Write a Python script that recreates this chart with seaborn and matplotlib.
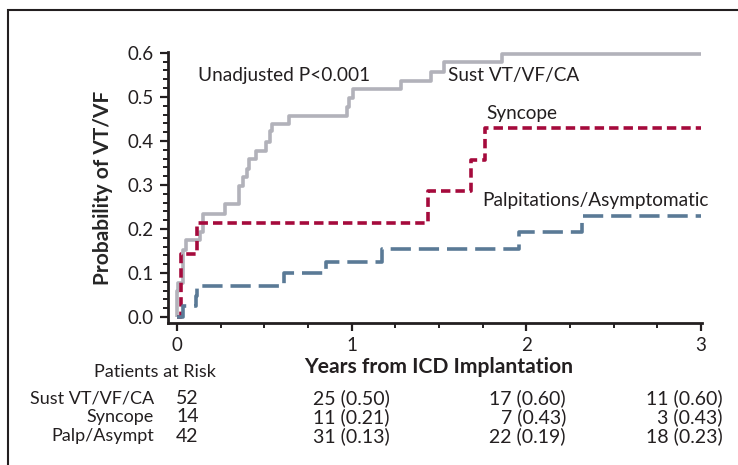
import numpy as np
import pandas as pd
import matplotlib
matplotlib.use("Agg")
import matplotlib.pyplot as plt
import seaborn as sns
from matplotlib.transforms import blended_transform_factory
from matplotlib.patches import Rectangle
from matplotlib.ticker import MultipleLocator

# ---- data ----
sust_t = [0.0, 0.0, 0.007, 0.033, 0.052, 0.132, 0.147, 0.275, 0.357, 0.38, 0.402, 0.41,
          0.452, 0.509, 0.532, 0.542, 0.643, 0.971, 0.986, 1.009, 1.28, 1.452, 1.528, 1.859, 3.0]
sust_p = [0.0, 0.06, 0.078, 0.152, 0.174, 0.193, 0.235, 0.256, 0.297, 0.318, 0.337, 0.358,
          0.378, 0.397, 0.422, 0.438, 0.457, 0.477, 0.498, 0.517, 0.537, 0.557, 0.58, 0.598, 0.598]

sync_t = [0.0, 0.021, 0.116, 1.438, 1.681, 1.763, 3.0]
sync_p = [0.0, 0.143, 0.214, 0.286, 0.357, 0.429, 0.429]

palp_t = [0.0, 0.033, 0.109, 0.113, 0.612, 0.851, 1.172, 1.959, 2.32, 3.0]
palp_p = [0.0, 0.024, 0.048, 0.071, 0.099, 0.125, 0.155, 0.192, 0.229, 0.229]

group_names = ["Sust VT/VF/CA", "Syncope", "Palpitations/Asymptomatic"]
risk_labels = ["Sust VT/VF/CA", "Syncope", "Palp/Asympt"]
risk_values = [
    ["52", "25 (0.50)", "17 (0.60)", "11 (0.60)"],
    ["14", "11 (0.21)", "7 (0.43)", "3 (0.43)"],
    ["42", "31 (0.13)", "22 (0.19)", "18 (0.23)"],
]
x_ticks = [0, 1, 2, 3]
y_ticks = [0.0, 0.1, 0.2, 0.3, 0.4, 0.5, 0.6]

# ---- styling ----
sns.set_theme(style="ticks")
plt.rcParams["font.family"] = ["Lato", "DejaVu Sans"]
plt.rcParams["text.color"] = "#231f20"

colors = {"Sust VT/VF/CA": "#b2b2ba", "Syncope": "#a50a3c", "Palpitations/Asymptomatic": "#5a7a96"}
dash_map = {"Sust VT/VF/CA": "", "Syncope": (2.6, 1.4), "Palpitations/Asymptomatic": (5.6, 2.2)}

df = pd.concat([
    pd.DataFrame({"t": sust_t, "p": sust_p, "g": group_names[0]}),
    pd.DataFrame({"t": sync_t, "p": sync_p, "g": group_names[1]}),
    pd.DataFrame({"t": palp_t, "p": palp_p, "g": group_names[2]}),
], ignore_index=True)

fig = plt.figure(figsize=(7.38, 4.65), dpi=100)
ax = fig.add_axes([168 / 738, 1 - 323 / 465, (702 - 168) / 738, (323 - 52) / 465])

for g in group_names:
    sub = df[df["g"] == g]
    sns.lineplot(data=sub, x="t", y="p", ax=ax, color=colors[g], lw=2.6,
                 drawstyle="steps-post", estimator=None, sort=False,
                 dashes=False, legend=False)
    line = ax.lines[-1]
    if dash_map[g]:
        line.set_dashes(dash_map[g])
    line.set_solid_capstyle("butt")
    line.set_dash_capstyle("butt")

ax.set_xlim(-0.0515, 3.006)
ax.set_ylim(-0.0136, 0.602)
ax.set_xticks(x_ticks)
ax.set_xticklabels([str(v) for v in x_ticks])
ax.set_yticks(y_ticks)
ax.set_yticklabels([f"{v:.1f}" for v in y_ticks])
ax.xaxis.set_minor_locator(MultipleLocator(0.25))
ax.yaxis.set_minor_locator(MultipleLocator(0.02))
ax.tick_params(which="major", length=6, width=1.6, labelsize=13.5, color="#231f20",
               labelcolor="#231f20", pad=4)
ax.tick_params(which="minor", length=3.5, width=1.4, color="#231f20")
sns.despine(ax=ax)
for s in ["left", "bottom"]:
    ax.spines[s].set_linewidth(2.0)
    ax.spines[s].set_color("#231f20")
ax.set_xlabel("")
ax.set_ylabel("Probability of VT/VF", fontsize=15, fontweight="bold", labelpad=11)

# curve annotations
ax.text(0.12, 0.548, "Unadjusted P<0.001", fontsize=13.7, va="center", ha="left")
ax.text(1.551, 0.548, "Sust VT/VF/CA", fontsize=13.7, va="center", ha="left")
ax.text(1.769, 0.462, "Syncope", fontsize=13.7, va="center", ha="left")
ax.text(1.746, 0.265, "Palpitations/Asymptomatic", fontsize=13.7, va="center", ha="left")

# x label and risk table
fig.text(439 / 738, 1 - 367 / 465, "Years from ICD Implantation", fontsize=15.2,
         fontweight="bold", ha="center", va="center")
fig.text(155 / 738, 1 - 372 / 465, "Patients at Risk", fontsize=13, ha="center", va="center")
tr = blended_transform_factory(ax.transData, fig.transFigure)
row_y = [398, 417, 436]
col_x = [-0.005, 1.219, 2.227, 3.125]
col_ha = ["left", "right", "right", "right"]
for i, lab in enumerate(risk_labels):
    y = 1 - row_y[i] / 465
    ax.text(-0.132, y, lab, transform=tr, fontsize=13, ha="right", va="center", clip_on=False)
    for j, val in enumerate(risk_values[i]):
        ax.text(col_x[j], y, val, transform=tr, fontsize=14, ha=col_ha[j], va="center",
                clip_on=False)

# frame around figure (left and top edges visible)
fig.patches.append(Rectangle((8 / 738, -0.1), 1.2, 1 - 10 / 465 + 0.1, transform=fig.transFigure,
                             fill=False, edgecolor="#231f20", lw=1.5))

fig.savefig("out.png", dpi=100)
